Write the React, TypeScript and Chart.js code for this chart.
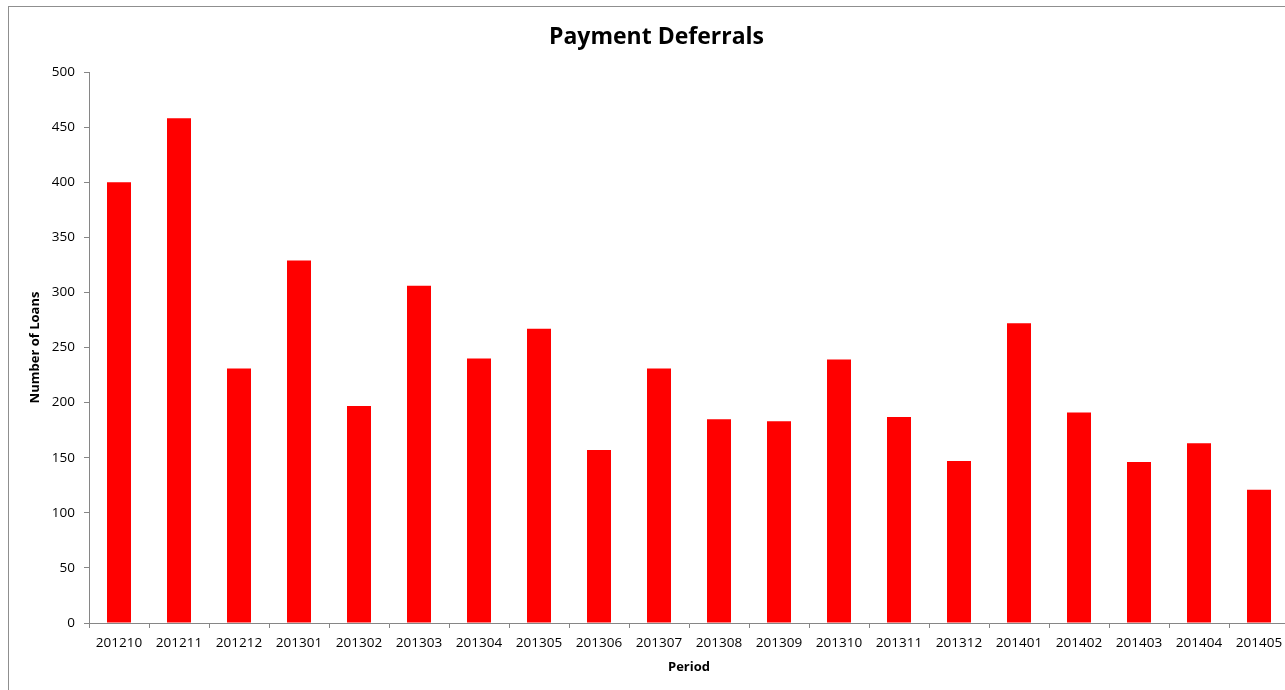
import React, { useEffect, useRef } from "react";
import { Chart, registerables } from "chart.js";

Chart.register(...registerables);

// Reporting periods (YYYYMM) and the number of loans with a payment deferral
const periods: string[] = [
  "201210", "201211", "201212", "201301", "201302", "201303", "201304",
  "201305", "201306", "201307", "201308", "201309", "201310", "201311",
  "201312", "201401", "201402", "201403", "201404", "201405",
];

const deferrals: number[] = [
  400, 458, 231, 329, 197, 306, 240, 267, 157, 231,
  185, 183, 239, 187, 147, 272, 191, 146, 163, 121,
];

const yTicks: number[] = [0, 50, 100, 150, 200, 250, 300, 350, 400, 450, 500];

const FONT = "'Open Sans', 'DejaVu Sans', sans-serif";
const AXIS_GREY = "#868686";

// White background and thin frame around the whole chart
const framePlugin = {
  id: "frame",
  beforeDraw(chart: Chart) {
    const { ctx, width, height } = chart;
    ctx.save();
    ctx.fillStyle = "#ffffff";
    ctx.fillRect(0, 0, width, height);
    ctx.strokeStyle = "#8f8f8f";
    ctx.lineWidth = 1;
    ctx.strokeRect(0.5, 0.5, width + 10, height + 10);
    ctx.restore();
  },
};

export default function App() {
  const canvasRef = useRef<HTMLCanvasElement | null>(null);

  useEffect(() => {
    if (!canvasRef.current) return;
    const chart = new Chart(canvasRef.current, {
      type: "bar",
      data: {
        labels: periods,
        datasets: [
          {
            label: "Number of Loans",
            data: deferrals,
            backgroundColor: "#ff0000",
            borderWidth: 0,
            barPercentage: 0.4,
            categoryPercentage: 1.0,
          },
        ],
      },
      options: {
        responsive: false,
        animation: false,
        devicePixelRatio: 1,
        layout: { padding: { top: 0, right: 19, bottom: 0, left: 16 } },
        plugins: {
          legend: { display: false },
          tooltip: { enabled: false },
          title: {
            display: true,
            text: "Payment Deferrals",
            color: "#000000",
            font: { family: FONT, size: 23, weight: "bold", lineHeight: 1.2 },
            padding: { top: 17.5, bottom: 20.9 },
          },
        },
        scales: {
          x: {
            offset: true,
            grid: {
              display: true,
              drawOnChartArea: false,
              drawTicks: true,
              tickLength: 5,
              color: AXIS_GREY,
              offset: true,
            },
            border: { display: true, color: AXIS_GREY, width: 1 },
            ticks: {
              color: "#000000",
              font: { family: FONT, size: 13.5 },
              padding: 7,
              maxRotation: 0,
              autoSkip: false,
            },
            title: {
              display: true,
              text: "Period",
              color: "#000000",
              font: { family: FONT, size: 13, weight: "bold", lineHeight: 1.2 },
              padding: { top: 0, bottom: 31 },
            },
            afterFit(scale: any) {
              scale.height = 83;
            },
          },
          y: {
            min: 0,
            max: 500,
            afterBuildTicks(scale: any) {
              scale.ticks = yTicks.map((v) => ({ value: v }));
            },
            grid: {
              display: true,
              drawOnChartArea: false,
              drawTicks: true,
              tickLength: 5,
              color: AXIS_GREY,
            },
            border: { display: true, color: AXIS_GREY, width: 1 },
            ticks: {
              color: "#000000",
              font: { family: FONT, size: 13.5 },
              padding: 9,
            },
            title: {
              display: true,
              text: "Number of Loans",
              color: "#000000",
              font: { family: FONT, size: 13, weight: "bold", lineHeight: 1.2 },
              padding: { top: 3, bottom: 0 },
            },
            afterFit(scale: any) {
              scale.width = 65;
            },
          },
        },
      },
      plugins: [framePlugin],
    });
    return () => chart.destroy();
  }, []);

  return (
    <div
      style={{
        position: "absolute",
        left: 8,
        top: 6,
        width: 1277,
        height: 684,
        overflow: "hidden",
      }}
    >
      <canvas
        ref={canvasRef}
        width={1300}
        height={700}
        style={{ display: "block", width: 1300, height: 700 }}
      />
    </div>
  );
}
